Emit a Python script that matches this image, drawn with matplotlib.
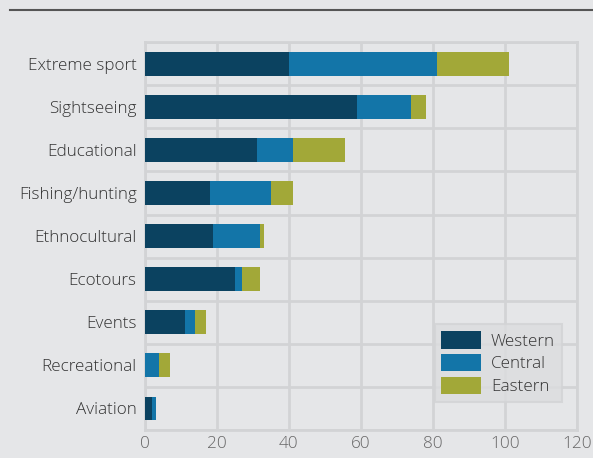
import matplotlib.pyplot as plt
from matplotlib.lines import Line2D
import numpy as np

# data
categories = ['Extreme sport', 'Sightseeing', 'Educational', 'Fishing/hunting',
              'Ethnocultural', 'Ecotours', 'Events', 'Recreational', 'Aviation']
western = [40, 59, 31, 18, 19, 25, 11, 0, 2]
central = [41, 15, 10, 17, 13, 2, 3, 4, 1]
eastern = [20, 4, 14.5, 6, 1, 5, 3, 3, 0]
series_names = ['Western', 'Central', 'Eastern']
x_ticks = [0, 20, 40, 60, 80, 100, 120]

bg = '#e5e6e8'
grid_col = '#d2d3d5'
colors = ['#0b4260', '#1375a8', '#a2a838']

plt.rcParams['font.family'] = ['Open Sans', 'DejaVu Sans']
plt.rcParams['font.weight'] = 'light'

fig = plt.figure(figsize=(5.93, 4.58), dpi=100, facecolor=bg)
ax = fig.add_axes([0.2445, 0.0611, 0.7285, 0.847], facecolor=bg)

y = np.arange(len(categories))
w = np.array(western, dtype=float)
c = np.array(central, dtype=float)
e = np.array(eastern, dtype=float)
h = 0.555
ax.barh(y, w, height=h, color=colors[0], label=series_names[0], zorder=3)
ax.barh(y, c, left=w, height=h, color=colors[1], label=series_names[1], zorder=3)
ax.barh(y, e, left=w + c, height=h, color=colors[2], label=series_names[2], zorder=3)

ax.set_ylim(len(categories) - 0.5, -0.5)
ax.set_xlim(0, 120)
ax.set_xticks(x_ticks)
ax.set_xticklabels([str(t) for t in x_ticks])
ax.set_yticks(y)
ax.set_yticklabels(categories)
ax.set_yticks(np.arange(-0.5, len(categories), 1), minor=True)

ax.grid(True, axis='x', which='major', color=grid_col, linewidth=2, zorder=0)
ax.grid(True, axis='y', which='minor', color=grid_col, linewidth=2, zorder=0)
ax.tick_params(axis='both', which='both', length=0)
ax.tick_params(axis='x', labelsize=12.3, labelcolor='#666666', pad=4)
ax.tick_params(axis='y', labelsize=12.3, labelcolor='#333333', pad=6)
for s in ax.spines.values():
    s.set_color(grid_col)
    s.set_linewidth(2)

leg = ax.legend(loc='lower right', bbox_to_anchor=(0.965, 0.072), fontsize=12.3,
                frameon=True, fancybox=False, facecolor='#dcdddf', edgecolor=grid_col,
                handlelength=2.3, handleheight=1.2, labelspacing=0.25,
                borderpad=0.4, handletextpad=0.6, borderaxespad=0)
leg.get_frame().set_linewidth(1.5)
for t in leg.get_texts():
    t.set_color('#333333')

# rule under the (cropped) title
fig.add_artist(Line2D([10 / 593, 1.0], [1 - 10 / 458, 1 - 10 / 458],
                      transform=fig.transFigure, color='#555555', linewidth=1.5))

fig.savefig('out.png', dpi=100, facecolor=bg)
